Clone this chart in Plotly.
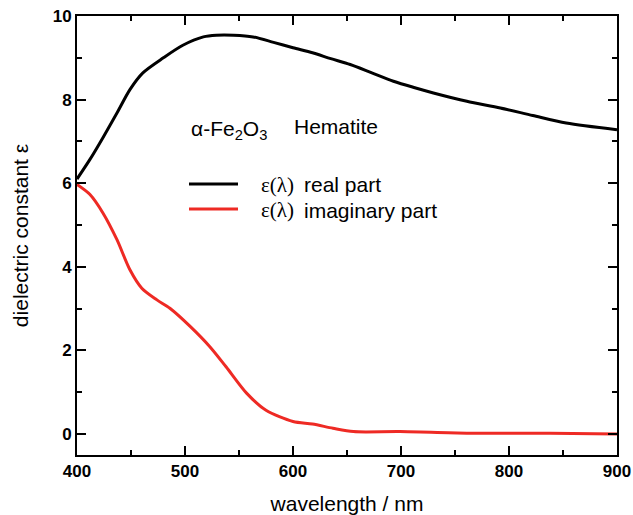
import plotly.graph_objects as go

# Data
wl_real = [400, 412, 424, 437, 449, 461, 480, 498, 517, 529, 545, 563, 582, 600, 618, 635, 653, 673, 693, 712, 730, 761, 792, 822, 853, 900]
eps_real = [6.1, 6.57, 7.09, 7.68, 8.24, 8.64, 9.0, 9.3, 9.5, 9.54, 9.54, 9.5, 9.37, 9.24, 9.12, 8.98, 8.84, 8.64, 8.44, 8.29, 8.16, 7.96, 7.8, 7.62, 7.44, 7.28]

wl_imag = [400, 412, 424, 437, 449, 460, 474, 486, 505, 523, 538, 557, 575, 600, 618, 637, 656, 699, 761, 838, 900]
eps_imag = [5.97, 5.73, 5.29, 4.65, 3.93, 3.49, 3.21, 3.01, 2.57, 2.09, 1.61, 0.98, 0.57, 0.3, 0.24, 0.14, 0.06, 0.06, 0.02, 0.02, 0.0]

x_ticks = [400, 500, 600, 700, 800, 900]
y_ticks = [0, 2, 4, 6, 8, 10]

fig = go.Figure()
fig.add_trace(go.Scatter(x=wl_real, y=eps_real, mode="lines", line=dict(color="black", width=3, shape="spline", smoothing=0.8), showlegend=False))
fig.add_trace(go.Scatter(x=wl_imag, y=eps_imag, mode="lines", line=dict(color="#ee2a24", width=3, shape="spline", smoothing=0.8), showlegend=False))

axis_common = dict(
    showline=True, linecolor="black", linewidth=2, mirror="allticks",
    ticks="inside", ticklen=9, tickwidth=2, tickcolor="black",
    showgrid=False, zeroline=False, automargin=False,
    tickfont=dict(family="Liberation Sans, Arial", size=17, color="black", weight="bold"),
)

fig.update_xaxes(**axis_common, range=[400, 900], tickvals=x_ticks,
                 minor=dict(ticks="inside", ticklen=5, tickwidth=2, dtick=50, tickcolor="black"),
                 title=dict(text="wavelength / nm", font=dict(family="Liberation Sans, Arial", size=21, color="black"), standoff=18))
fig.update_yaxes(**axis_common, range=[-0.5, 10], tickvals=y_ticks,
                 minor=dict(ticks="inside", ticklen=5, tickwidth=2, dtick=1, tickcolor="black"),
                 title=dict(text="dielectric constant ε", font=dict(family="Liberation Sans, Arial", size=21, color="black"), standoff=18))

def px_x(p):
    return (p - 77) / 540

def px_y(p):
    return (455 - p) / 439

txt_font = dict(family="Liberation Sans, Arial", size=21, color="black")
serif_font = dict(family="Liberation Serif, Times New Roman", size=21, color="black")

annotations = [
    dict(x=px_x(189), y=px_y(130), text="α-Fe<sub>2</sub>O<sub>3</sub>", font=txt_font, xanchor="left", yanchor="middle"),
    dict(x=px_x(292), y=px_y(127), text="Hematite", font=txt_font, xanchor="left", yanchor="middle"),
    dict(x=px_x(259), y=px_y(185), text="ε(λ)", font=serif_font, xanchor="left", yanchor="middle"),
    dict(x=px_x(302), y=px_y(185), text="real part", font=txt_font, xanchor="left", yanchor="middle"),
    dict(x=px_x(259), y=px_y(210), text="ε(λ)", font=serif_font, xanchor="left", yanchor="middle"),
    dict(x=px_x(302), y=px_y(210), text="imaginary part", font=txt_font, xanchor="left", yanchor="middle"),
]
for a in annotations:
    a.update(xref="paper", yref="paper", showarrow=False)

shapes = [
    dict(type="line", xref="paper", yref="paper", x0=px_x(189), x1=px_x(238), y0=px_y(184), y1=px_y(184), line=dict(color="black", width=3)),
    dict(type="line", xref="paper", yref="paper", x0=px_x(189), x1=px_x(238), y0=px_y(209), y1=px_y(209), line=dict(color="#ee2a24", width=3)),
]

fig.update_layout(
    width=633, height=515,
    margin=dict(l=77, r=16, t=16, b=60),
    paper_bgcolor="white", plot_bgcolor="white",
    annotations=annotations, shapes=shapes,
)

fig.write_html("out.html")
